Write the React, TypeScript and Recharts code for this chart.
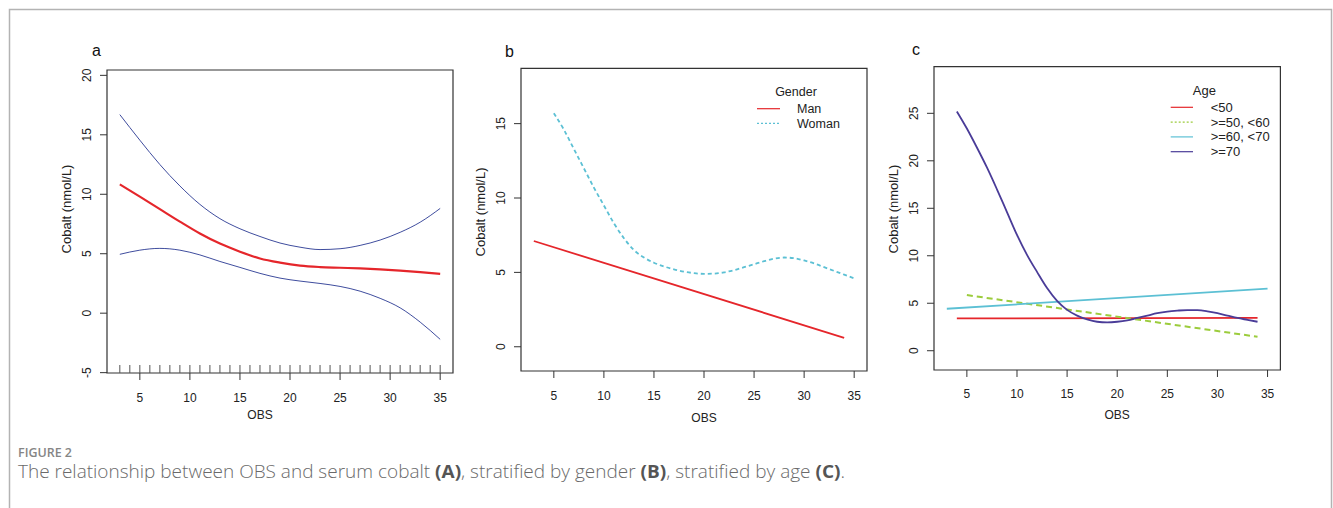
import React from 'react';
import { ComposedChart, Line, XAxis, YAxis, ReferenceArea, Scatter, Legend } from 'recharts';

const RFONT = '"Liberation Sans", Arial, Helvetica, sans-serif';
const CFONT = '"Open Sans", Lato, sans-serif';

// ---------- shared axis ----------
const xTicks = [5, 10, 15, 20, 25, 30, 35];
const xDomain: [number, number] = [1.72, 36.28];

// ---------- panel a : overall ----------
const obsA = [3, 5, 7, 9, 11, 13, 15, 17, 19, 21, 23, 25, 27, 29, 31, 33, 35];
const fitA = [10.83, 9.8, 8.75, 7.7, 6.7, 5.85, 5.17, 4.6, 4.25, 4.0, 3.88, 3.82, 3.76, 3.68, 3.58, 3.45, 3.3];
const upperA = [16.7, 14.55, 12.5, 10.7, 9.15, 7.95, 7.1, 6.45, 5.9, 5.55, 5.35, 5.42, 5.7, 6.15, 6.8, 7.65, 8.81];
const lowerA = [4.95, 5.3, 5.45, 5.3, 4.9, 4.35, 3.85, 3.35, 2.95, 2.7, 2.5, 2.25, 1.85, 1.25, 0.45, -0.75, -2.2];
const rugObs = [3, 4, 5, 6, 7, 8, 9, 10, 11, 12, 13, 14, 15, 16, 17, 18, 19, 20, 21, 22, 23, 24, 25, 26, 27, 28, 29, 30, 31, 32, 33, 34, 35];
const yTicksA = [-5, 0, 5, 10, 15, 20];
const yDomainA: [number, number] = [-5.03, 20.45];

// ---------- panel b : gender ----------
const obsMan = [3, 34];
const cobaltMan = [7.11, 0.6];
const obsWoman = [5, 6, 7, 8, 9, 10, 11, 12, 13, 14, 15, 16, 17, 18, 19, 20, 21, 22, 23, 24, 25, 26, 27, 28, 29, 30, 31, 32, 33, 34, 35];
const cobaltWoman = [15.7, 14.6, 13.3, 12.0, 10.7, 9.5, 8.3, 7.3, 6.5, 6.0, 5.65, 5.4, 5.2, 5.05, 4.95, 4.9, 4.92, 5.0, 5.15, 5.35, 5.55, 5.75, 5.92, 6.0, 5.95, 5.8, 5.6, 5.35, 5.1, 4.85, 4.6];
const yTicksB = [0, 5, 10, 15];
const yDomainB: [number, number] = [-1.63, 18.72];

// ---------- panel c : age ----------
const obsLt50 = [4, 34];
const cobaltLt50 = [3.4, 3.45];
const obs5060 = [5, 34];
const cobalt5060 = [5.86, 1.47];
const obs6070 = [3, 35];
const cobalt6070 = [4.42, 6.53];
const obsGe70 = [4, 5, 6, 7, 8, 9, 10, 11, 12, 13, 14, 15, 16, 17, 18, 19, 20, 21, 22, 23, 24, 25, 26, 27, 28, 29, 30, 31, 32, 33, 34];
const cobaltGe70 = [25.2, 23.4, 21.4, 19.3, 17.0, 14.6, 12.2, 10.1, 8.3, 6.6, 5.25, 4.3, 3.7, 3.3, 3.05, 2.98, 3.05, 3.2, 3.45, 3.7, 3.95, 4.12, 4.22, 4.28, 4.27, 4.15, 3.95, 3.7, 3.45, 3.25, 3.05];
const yTicksC = [0, 5, 10, 15, 20, 25];
const yDomainC: [number, number] = [-2.03, 29.91];

const xLabelText = 'OBS';
const yLabelText = 'Cobalt (nmol/L)';

const pts = (xs: number[], ys: number[]) => xs.map((x, i) => ({ x, y: ys[i] }));

type Series = { name: string; xs: number[]; ys: number[]; color: string; width: number; dash?: string; legendDash?: string };
type LegendCfg = { title: string; titleX: number; titleY: number; lineX1: number; lineX2: number; textX: number; rowY0: number; rowStep: number; fontSize: number };
type PanelProps = {
  boxLeft: number; boxTop: number; boxW: number; boxH: number;
  yDomain: [number, number]; yTicks: number[];
  series: Series[]; rug?: number[]; legend?: LegendCfg;
  xLabelDx: number; xLabelDy: number; yLabelDy: number;
};

const PADL = 75, YW = 45, XH = 60, PADR = 20;

const XTick = (p: any) => (
  <text x={p.x} y={p.y} dy={19.5} textAnchor="middle" fontSize={12} fontFamily={RFONT} fill="#222">
    {p.payload.value}
  </text>
);

const YTick = (p: any) => {
  const bx = p.x - 7.4;
  return (
    <text x={bx} y={p.y} transform={`rotate(-90 ${bx} ${p.y})`} textAnchor="middle" fontSize={12} fontFamily={RFONT} fill="#222">
      {p.payload.value}
    </text>
  );
};

const XLabel = (p: any) => {
  const vb = p.viewBox;
  if (!vb) return null;
  return (
    <text x={vb.x + vb.width / 2 + p.shiftX} y={vb.y + p.baseY} textAnchor="middle" fontSize={12} fontFamily={RFONT} fill="#222">
      {xLabelText}
    </text>
  );
};

const YLabel = (p: any) => {
  const vb = p.viewBox;
  if (!vb) return null;
  const bx = vb.x + vb.width - 35.7;
  const cy = vb.y + vb.height / 2 + p.shiftY;
  return (
    <text x={bx} y={cy} transform={`rotate(-90 ${bx} ${cy})`} textAnchor="middle" fontSize={13} fontFamily={RFONT} fill="#222">
      {yLabelText}
    </text>
  );
};

const RugMark = (p: any) => (
  <line x1={p.cx} x2={p.cx} y1={p.cy} y2={p.cy - 8} stroke="#555" strokeWidth={1} />
);

const LegendSvg = ({ cfg, payload, series, offsetX, W, H }: any) => (
  <svg width={W} height={H} style={{ position: 'absolute', left: 0, top: 0, overflow: 'visible' }}>
    <text x={cfg.titleX - offsetX} y={cfg.titleY} textAnchor="middle" fontSize={cfg.fontSize} fontFamily={RFONT} fill="#222">
      {cfg.title}
    </text>
    {(payload || []).map((e: any, i: number) => {
      const s = series.find((q: Series) => q.name === e.value);
      const y = cfg.rowY0 + i * cfg.rowStep;
      return (
        <g key={i}>
          <line x1={cfg.lineX1 - offsetX} x2={cfg.lineX2 - offsetX} y1={y} y2={y} stroke={e.color} strokeWidth={1.2} strokeDasharray={s ? s.legendDash : undefined} />
          <text x={cfg.textX - offsetX} y={y + 4.5} fontSize={cfg.fontSize} fontFamily={RFONT} fill="#222">
            {e.value}
          </text>
        </g>
      );
    })}
  </svg>
);

function Panel(p: PanelProps) {
  const chartLeft = p.boxLeft - PADL;
  const W = PADL + p.boxW + PADR;
  const H = p.boxTop + p.boxH + XH;
  return (
    <div style={{ position: 'absolute', left: chartLeft, top: 0, width: W, height: H }}>
      <ComposedChart width={W} height={H} margin={{ top: p.boxTop, right: PADR, bottom: 0, left: PADL - YW }}>
        <XAxis
          type="number" dataKey="x" domain={xDomain} ticks={xTicks} interval={0} allowDataOverflow
          axisLine={false} tickLine={{ stroke: '#333', strokeWidth: 1 }} tickSize={7} tickMargin={2}
          tick={XTick} height={XH}
          label={<XLabel shiftX={p.xLabelDx} baseY={p.xLabelDy} />}
        />
        <YAxis
          type="number" dataKey="y" domain={p.yDomain} ticks={p.yTicks} interval={0} allowDataOverflow
          axisLine={false} tickLine={{ stroke: '#333', strokeWidth: 1 }} tickSize={7} tickMargin={2}
          tick={YTick} width={YW}
          label={<YLabel shiftY={p.yLabelDy} />}
        />
        <ReferenceArea x1={xDomain[0]} x2={xDomain[1]} y1={p.yDomain[0]} y2={p.yDomain[1]} fill="none" fillOpacity={0} stroke="#333" strokeWidth={1.2} ifOverflow="visible" />
        {p.rug && (
          <Scatter data={p.rug.map((x) => ({ x, y: p.yDomain[0] }))} shape={RugMark} isAnimationActive={false} legendType="none" />
        )}
        {p.series.map((s) => (
          <Line
            key={s.name} name={s.name} data={pts(s.xs, s.ys)} dataKey="y" type="monotone"
            stroke={s.color} strokeWidth={s.width} strokeDasharray={s.dash}
            dot={false} activeDot={false} isAnimationActive={false}
          />
        ))}
        {p.legend && (
          <Legend
            layout="vertical" align="center" verticalAlign="middle"
            wrapperStyle={{ left: 0, top: 0, width: W, height: H, pointerEvents: 'none' }}
            content={(lp: any) => <LegendSvg cfg={p.legend} payload={lp.payload} series={p.series} offsetX={chartLeft} W={W} H={H} />}
          />
        )}
      </ComposedChart>
    </div>
  );
}

const RED = '#e5262b';
const BLUE = '#3f4d9e';
const CYAN = '#5cc0d4';
const GREEN = '#9ccc3c';
const PURPLE = '#4a3c98';

const seriesA: Series[] = [
  { name: 'upper', xs: obsA, ys: upperA, color: BLUE, width: 1 },
  { name: 'lower', xs: obsA, ys: lowerA, color: BLUE, width: 1 },
  { name: 'fit', xs: obsA, ys: fitA, color: RED, width: 2.2 },
];
const seriesB: Series[] = [
  { name: 'Man', xs: obsMan, ys: cobaltMan, color: RED, width: 1.8 },
  { name: 'Woman', xs: obsWoman, ys: cobaltWoman, color: CYAN, width: 1.8, dash: '4 3', legendDash: '2 2' },
];
const seriesC: Series[] = [
  { name: '<50', xs: obsLt50, ys: cobaltLt50, color: RED, width: 1.8 },
  { name: '>=50, <60', xs: obs5060, ys: cobalt5060, color: GREEN, width: 2, dash: '6 4', legendDash: '2 2' },
  { name: '>=60, <70', xs: obs6070, ys: cobalt6070, color: CYAN, width: 1.8 },
  { name: '>=70', xs: obsGe70, ys: cobaltGe70, color: PURPLE, width: 1.8 },
];

export default function App() {
  return (
    <div style={{ position: 'absolute', left: 0, top: 0, width: 1333, height: 508, background: '#fff', overflow: 'hidden' }}>
      <svg width={1333} height={508} style={{ position: 'absolute', left: 0, top: 0 }}>
        <path d="M9.5 508 L9.5 9.5 L1331.5 9.5 L1331.5 508" fill="none" stroke="#b3b3b3" strokeWidth={1.5} />
        <text x={92} y={55.7} fontSize={16} fontFamily={RFONT} fill="#111">a</text>
        <text x={505} y={57.3} fontSize={16} fontFamily={RFONT} fill="#111">b</text>
        <text x={912} y={55} fontSize={16} fontFamily={RFONT} fill="#111">c</text>
        <text x={18} y={456.5} fontSize={12} fontWeight={600} fontFamily={CFONT} fill="#858585" textLength={54} lengthAdjust="spacingAndGlyphs">FIGURE 2</text>
        <text x={18} y={478} fontSize={17.5} fontWeight={300} fontFamily={CFONT} fill="#6a6a6a" textLength={827} lengthAdjust="spacingAndGlyphs">
          The relationship between OBS and serum cobalt <tspan fontWeight={700} fill="#555">(A)</tspan>, stratified by gender{' '}
          <tspan fontWeight={700} fill="#555">(B)</tspan>, stratified by age <tspan fontWeight={700} fill="#555">(C)</tspan>.
        </text>
      </svg>
      <Panel boxLeft={107} boxTop={70} boxW={346} boxH={303} yDomain={yDomainA} yTicks={yTicksA} series={seriesA} rug={rugObs}
        xLabelDx={-20} xLabelDy={46.3} yLabelDy={-12.5} />
      <Panel boxLeft={521} boxTop={68.3} boxW={346} boxH={302.7} yDomain={yDomainB} yTicks={yTicksB} series={seriesB}
        xLabelDx={10} xLabelDy={51} yLabelDy={-7.7}
        legend={{ title: 'Gender', titleX: 796, titleY: 95.5, lineX1: 757, lineX2: 780, textX: 797, rowY0: 108.7, rowStep: 14.6, fontSize: 12.5 }} />
      <Panel boxLeft={934.3} boxTop={66.7} boxW={346.4} boxH={303.3} yDomain={yDomainC} yTicks={yTicksC} series={seriesC}
        xLabelDx={10} xLabelDy={49.5} yLabelDy={-9.3}
        legend={{ title: 'Age', titleX: 1204.7, titleY: 94.5, lineX1: 1171, lineX2: 1193.3, textX: 1211, rowY0: 107.3, rowStep: 14.8, fontSize: 13 }} />
    </div>
  );
}
